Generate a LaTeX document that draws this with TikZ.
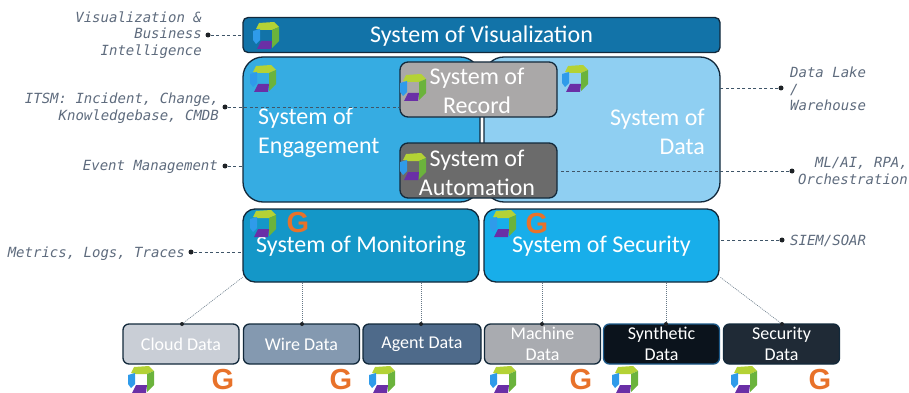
\documentclass[tikz,border=0pt]{standalone}
\usepackage{fontspec}
\setmainfont{Carlito}
\newfontfamily\notefont{DejaVu Sans Mono}
\newfontfamily\gfont{Liberation Sans}
\definecolor{boxline}{HTML}{12293B}
\definecolor{notegray}{HTML}{5E6B7D}
\definecolor{dotblack}{HTML}{1E2226}
\definecolor{linegray}{HTML}{3F5568}
\definecolor{gorange}{HTML}{E8722A}
\definecolor{lime}{HTML}{B4D235}
\definecolor{leaf}{HTML}{6BB33C}
\definecolor{sky}{HTML}{2F9BEA}
\definecolor{plum}{HTML}{6A2FA6}
\definecolor{visfill}{HTML}{1273A8}
\definecolor{engfill}{HTML}{36ACE2}
\definecolor{datfill}{HTML}{8FCFF2}
\definecolor{monfill}{HTML}{1497C8}
\definecolor{secfill}{HTML}{18AEEA}
\definecolor{recfill}{HTML}{AAA8A8}
\definecolor{autfill}{HTML}{6B6B6B}
\definecolor{cloudfill}{HTML}{C9CED6}
\definecolor{wirefill}{HTML}{8499B0}
\definecolor{agentfill}{HTML}{4E6A8A}
\definecolor{machfill}{HTML}{A9ABB0}
\definecolor{synfill}{HTML}{0B131C}
\definecolor{synline}{HTML}{1C5A8A}
\definecolor{secdfill}{HTML}{1F2A36}
\begin{document}
\begin{tikzpicture}[x=1pt,y=-1pt,font=\fontsize{24}{29}\selectfont]
\tikzset{
% Boxes for the systems and for the data sources below them
sys box/.style={draw=boxline,line width=1.3pt,text=white,align=center,inner sep=0,outer sep=0,rounded corners=#1},
data box/.style={sys box=6,minimum width=116,minimum height=40,font=\fontsize{18}{21}\selectfont},
sys text/.style={text=white,inner sep=0},
% Side notes and their connectors
side note/.style={text=notegray,inner sep=0,font=\fontsize{14}{16.5}\selectfont\notefont\itshape},
end dot/.style={circle,fill=dotblack,inner sep=0,minimum size=5},
side line/.style={draw=linegray,line width=.8pt,dash pattern=on 3pt off 2.5pt},
feed line/.style={draw=linegray!80,line width=.6pt,dash pattern=on 1pt off 1pt},
gmark/.style={text=gorange,inner sep=0,font=\fontsize{29}{29}\selectfont\gfont\bfseries},
% The cube mark
logo/.pic={
\fill[lime] (-7,-12)--(8,-13)--(13,-8)--(6,-5)--(-5,-5)--(-10,-6)--cycle;
\fill[leaf] (13,-8)--(13,6)--(6,13)--(6,-5)--cycle;
\fill[sky] (-13,-4)--(-6,-6)--(-6,5)--(-10,9)--(-13,5)--cycle;
\fill[plum] (-9,14)--(-5,6)--(6,6)--(5,14)--cycle;
}
}
\useasboundingbox (0,0) rectangle (909,393);

% The systems
\node (vis)[sys box=5,fill=visfill,minimum width=477,minimum height=35,text depth=0,text height=16] at (481.5,35) {System of Visualization};
\node (eng)[sys box=20,fill=engfill,minimum width=237,minimum height=145] at (361.5,129.5) {};
\node (dat)[sys box=20,fill=datfill,minimum width=236,minimum height=145] at (602,129.5) {};
\node (mon)[sys box=12,fill=monfill,minimum width=236,minimum height=73,text depth=0,text height=14] at (361,245.5) {System of Monitoring};
\node (sec)[sys box=12,fill=secfill,minimum width=235,minimum height=73,text depth=0,text height=14] at (601.5,245.5) {System of Security};
\node (engtext)[sys text,align=left,anchor=west] at (258,133) {System of\\Engagement};
\node (dattext)[sys text,align=right,anchor=east] at (705,132) {System of\\Data};

% The side notes
\node (visnote)[side note,align=right,anchor=east] at (202,35) {Visualization \&\\Business\\Intelligence};
\node (itsmnote)[side note,align=right,anchor=east] at (219,108) {ITSM: Incident, Change,\\Knowledgebase, CMDB};
\node (evtnote)[side note,anchor=east] at (218,167) {Event Management};
\node (metnote)[side note,anchor=east] at (185,254) {Metrics, Logs, Traces};
\node (lakenote)[side note,align=left,anchor=west] at (790,89) {Data Lake\\/\\Warehouse};
\node (mlnote)[side note,align=right,anchor=east] at (908,171) {ML/AI, RPA,\\Orchestration};
\node (siemnote)[side note,anchor=west] at (790,241) {SIEM/SOAR};

% Record and automation sit on top of the dashed lines
\node (visdot)[end dot] at (208,35) {};
\node (itsmdot)[end dot] at (225,107) {};
\node (evtdot)[end dot] at (225,166) {};
\node (metdot)[end dot] at (191,252) {};
\node (lakedot)[end dot] at (781,88) {};
\node (mldot)[end dot] at (792,171) {};
\node (siemdot)[end dot] at (782,240) {};
\node (rec)[sys box=8,fill=recfill,minimum width=157,minimum height=55] at (478.5,89.5) {};
\node (aut)[sys box=8,fill=autfill,minimum width=157,minimum height=55] at (478.5,170.5) {};
\draw[side line] (visdot)--(visdot-|vis.west);
\draw[side line] (itsmdot)--(itsmdot-|rec.west);
\draw[side line] (evtdot)--(evtdot-|eng.west);
\draw[side line] (metdot)--(metdot-|mon.west);
\draw[side line] (lakedot)--(lakedot-|dat.east);
\draw[side line] (mldot)--(mldot-|aut.east);
\draw[side line] (siemdot)--(siemdot-|sec.east);
\node (rectext)[sys text,align=center] at (477,90.5) {System of\\Record};
\node (auttext)[sys text,align=center] at (477,172.5) {System of\\Automation};

% The data sources
\node (cloud)[data box,fill=cloudfill] at (181,344) {Cloud Data};
\node (wire)[data box,fill=wirefill] at (301.5,344) {Wire Data};
\node (agent)[data box,fill=agentfill,minimum width=118] at (422,344) {Agent Data};
\node (machine)[data box,fill=machfill] at (542.5,344) {Machine\\Data};
\node (synth)[data box,fill=synfill,draw=synline] at (661.5,344) {Synthetic\\Data};
\node (secdata)[data box,fill=secdfill] at (781.5,344) {Security\\Data};

% Feeds from the data sources up to the systems
\foreach \src/\px/\qx/\qy in {cloud/182/243/277,wire/302/302/282,agent/421/421/282,machine/542/542/282,synth/666/666/282,secdata/782/720/277}{
\node (\src dot)[end dot,minimum size=4] at (\px,324) {};
\coordinate (\src top) at (\qx,\qy);
\draw[feed line] (\src dot)--(\src top);
}

% Cube marks
\foreach \px/\py in {266/35,263/78,413/87,413/166,575/78,263/223,503/223,141/379,382/379,503/379,625/379,744/379}{
\pic at (\px,\py) {logo};
}
% G marks
\foreach \px/\py [count=\i] in {298/223,537/224,223/380,341/380,581/380,820/380}{
\node (g\i)[gmark] at (\px,\py) {G};
}
\end{tikzpicture}
\end{document}
